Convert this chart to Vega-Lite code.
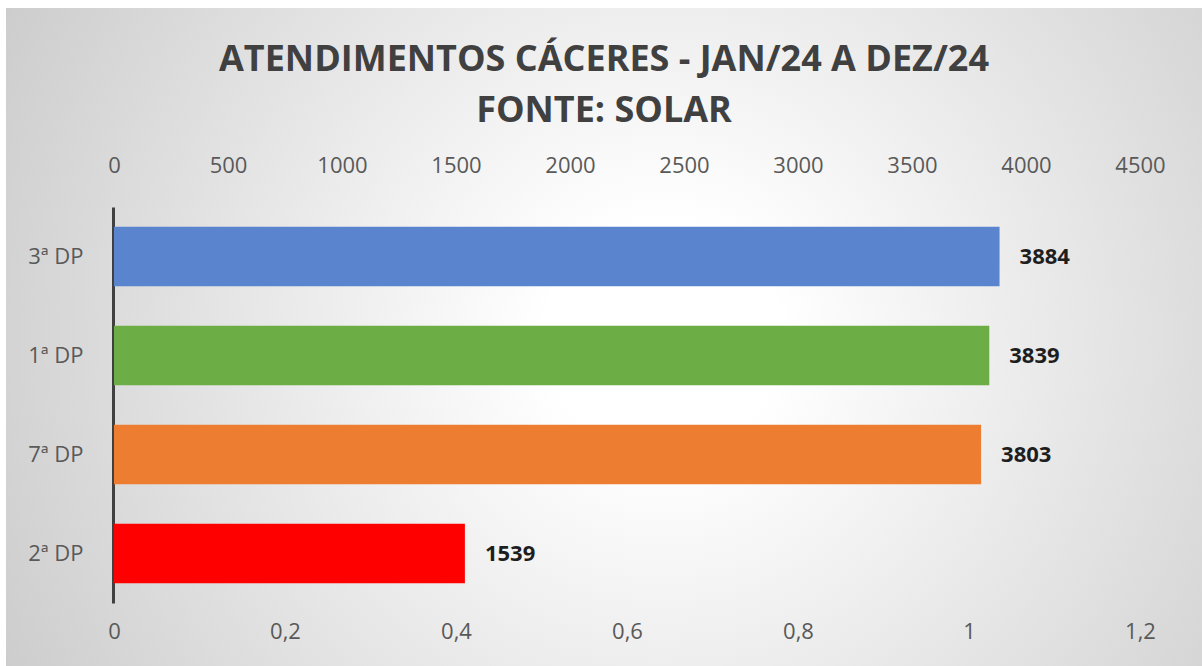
{
  "$schema": "https://vega.github.io/schema/vega-lite/v6.json",
  "width": 1196,
  "height": 658,
  "autosize": {"type": "none"},
  "padding": {"left": 6, "top": 8, "right": 0, "bottom": 0},
  "background": "#ffffff",
  "view": {
    "stroke": null,
    "fill": {
      "gradient": "radial",
      "x1": 0.55, "y1": 0.5, "r1": 0,
      "x2": 0.55, "y2": 0.5, "r2": 0.75,
      "stops": [
        {"offset": 0, "color": "#ffffff"},
        {"offset": 0.13, "color": "#ffffff"},
        {"offset": 1, "color": "#c0c0c0"}
      ]
    }
  },
  "title": {
    "text": ["ATENDIMENTOS CÁCERES - JAN/24 A DEZ/24", "FONTE: SOLAR"],
    "font": "Open Sans",
    "fontSize": 36,
    "fontWeight": "bold",
    "color": "#404040",
    "lineHeight": 51,
    "anchor": "middle",
    "offset": -122
  },
  "data": {
    "values": [
      {"dp": "3ª DP", "atendimentos": 3884},
      {"dp": "1ª DP", "atendimentos": 3839},
      {"dp": "7ª DP", "atendimentos": 3803},
      {"dp": "2ª DP", "atendimentos": 1539}
    ]
  },
  "resolve": {"scale": {"x": "independent"}},
  "layer": [
    {
      "mark": {"type": "bar"},
      "encoding": {
        "y": {
          "field": "dp",
          "type": "nominal",
          "sort": ["3ª DP", "1ª DP", "7ª DP", "2ª DP"],
          "scale": {"range": [199, 595], "paddingInner": 0.4, "paddingOuter": 0.2},
          "axis": {
            "title": null,
            "orient": "left",
            "offset": -107,
            "domain": true,
            "domainColor": "#404040",
            "domainWidth": 3,
            "ticks": false,
            "tickSize": 0,
            "labelPadding": 30,
            "labelFont": "Open Sans",
            "labelFontSize": 22,
            "labelColor": "#595959",
            "grid": false
          }
        },
        "x": {
          "field": "atendimentos",
          "type": "quantitative",
          "scale": {"domain": [0, 4500], "range": [108, 1134], "nice": false},
          "axis": {
            "title": null,
            "orient": "top",
            "offset": -180,
            "values": [0, 500, 1000, 1500, 2000, 2500, 3000, 3500, 4000, 4500],
            "format": "d",
            "labelFlush": false,
            "domain": false,
            "ticks": false,
            "tickSize": 0,
            "grid": false,
            "labelPadding": 11,
            "labelFont": "Open Sans",
            "labelFontSize": 22,
            "labelColor": "#595959"
          }
        },
        "color": {
          "field": "dp",
          "type": "nominal",
          "scale": {
            "domain": ["3ª DP", "1ª DP", "7ª DP", "2ª DP"],
            "range": ["#5b84cf", "#6cae45", "#ed7d31", "#ff0000"]
          },
          "legend": null
        }
      }
    },
    {
      "mark": {"type": "text", "align": "left", "baseline": "middle", "dx": 20, "font": "Open Sans", "fontSize": 22, "fontWeight": "bold", "color": "#1e1e1e"},
      "encoding": {
        "y": {"field": "dp", "type": "nominal", "sort": ["3ª DP", "1ª DP", "7ª DP", "2ª DP"]},
        "x": {"field": "atendimentos", "type": "quantitative", "scale": {"domain": [0, 4500], "range": [108, 1134], "nice": false}, "axis": null},
        "text": {"field": "atendimentos", "type": "quantitative", "format": "d"}
      }
    },
    {
      "mark": {"type": "point", "opacity": 0},
      "encoding": {
        "x": {
          "datum": 0,
          "type": "quantitative",
          "scale": {"domain": [0, 1.2], "range": [108, 1134], "nice": false},
          "axis": {
            "title": null,
            "orient": "bottom",
            "offset": -55,
            "values": [0, 0.2, 0.4, 0.6, 0.8, 1, 1.2],
            "labelExpr": "replace(format(datum.value, '.1~f'), '.', ',')",
            "labelFlush": false,
            "domain": false,
            "ticks": false,
            "tickSize": 0,
            "grid": false,
            "labelPadding": 10,
            "labelFont": "Open Sans",
            "labelFontSize": 22,
            "labelColor": "#595959"
          }
        }
      }
    }
  ]
}
